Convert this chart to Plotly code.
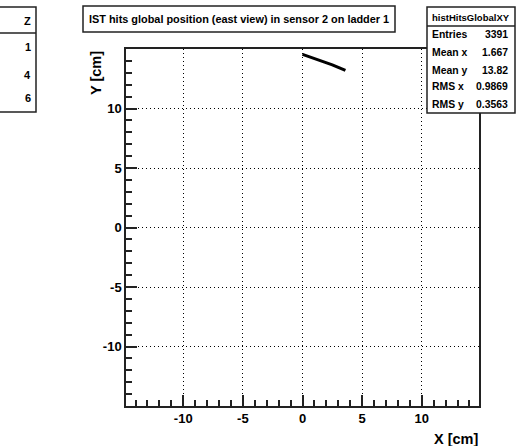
import plotly.graph_objects as go

# Data (hit band in sensor 2, ladder 1)
hit_x = [0.0, 0.5, 1.0, 1.5, 2.0, 2.5, 3.0, 3.6]
hit_y = [14.55, 14.38, 14.2, 14.02, 13.85, 13.67, 13.45, 13.2]

tick_vals = [-10, -5, 0, 5, 10]
tick_text = ["-10", "-5", "0", "5", "10"]

stats_labels = ["Entries", "Mean x", "Mean y", "RMS x", "RMS y"]
stats_values = ["3391", "1.667", "13.82", "0.9869", "0.3563"]
stats_name = "histHitsGlobalXY"
title_text = "IST hits global position (east view) in sensor 2 on ladder 1"
left_box_text = ["Z", "1", "4", "6"]

W, H = 518, 446
L, R, T, B = 126, 479, 49, 406


def px(x):
    return (x - L) / (R - L)


def py(y):
    return (B - y) / (B - T)


FONT = "Liberation Sans, Arial, sans-serif"

fig = go.Figure()
fig.add_trace(go.Scatter(x=hit_x, y=hit_y, mode="lines",
                         line=dict(color="black", width=3), showlegend=False,
                         hoverinfo="skip"))

axis_common = dict(
    showline=True, linecolor="#222", linewidth=1.5, mirror=True,
    ticks="inside", ticklen=11, tickwidth=1.5, tickcolor="#222",
    showgrid=True, gridcolor="black", gridwidth=1.2, griddash="1px,3px",
    zeroline=False,
    tickvals=tick_vals, ticktext=tick_text,
    tickfont=dict(family=FONT, size=13, color="black", weight="bold"),
    minor=dict(ticks="inside", ticklen=6, tickwidth=1.5, tickcolor="#222",
               dtick=1, showgrid=False),
)

fig.update_xaxes(range=[-14.8, 14.8], **axis_common)
fig.update_yaxes(range=[-15, 15], **axis_common)

shapes = []
annotations = []
line = dict(color="#222", width=1.5)

# title box
shapes.append(dict(type="rect", xref="paper", yref="paper",
                   x0=px(83), x1=px(395), y0=py(32), y1=py(6), line=line,
                   fillcolor="white"))
annotations.append(dict(xref="paper", yref="paper", x=px(239), y=py(19),
                        xanchor="center", yanchor="middle", showarrow=False,
                        text=title_text,
                        font=dict(family=FONT, size=10.9, color="black", weight="bold")))

# stats box
shapes.append(dict(type="rect", xref="paper", yref="paper",
                   x0=px(427), x1=px(515), y0=py(113), y1=py(7), line=line,
                   fillcolor="white"))
shapes.append(dict(type="line", xref="paper", yref="paper",
                   x0=px(427), x1=px(515), y0=py(26), y1=py(26), line=line))
annotations.append(dict(xref="paper", yref="paper", x=px(471), y=py(17),
                        xanchor="center", yanchor="middle", showarrow=False,
                        text=stats_name,
                        font=dict(family=FONT, size=9.5, color="black", weight="bold")))
row_y = [35, 52.5, 70, 87, 104.5]
for lab, val, yy in zip(stats_labels, stats_values, row_y):
    annotations.append(dict(xref="paper", yref="paper", x=px(430), y=py(yy),
                            xanchor="left", yanchor="middle", showarrow=False,
                            text=lab,
                            font=dict(family=FONT, size=10.4, color="black", weight="bold")))
    annotations.append(dict(xref="paper", yref="paper", x=px(510), y=py(yy),
                            xanchor="right", yanchor="middle", showarrow=False,
                            text=val,
                            font=dict(family=FONT, size=10.4, color="black", weight="bold")))

# partial box at left edge
shapes.append(dict(type="rect", xref="paper", yref="paper",
                   x0=px(-20), x1=px(36), y0=py(112), y1=py(7), line=line,
                   fillcolor="white"))
shapes.append(dict(type="line", xref="paper", yref="paper",
                   x0=px(-20), x1=px(36), y0=py(33), y1=py(33), line=line))
for txt, yy in zip(left_box_text, [21, 47, 75, 98]):
    annotations.append(dict(xref="paper", yref="paper", x=px(33), y=py(yy),
                            xanchor="right", yanchor="middle", showarrow=False,
                            text=txt,
                            font=dict(family=FONT, size=11, color="black", weight="bold")))

# axis titles
annotations.append(dict(xref="paper", yref="paper", x=px(480), y=py(439),
                        xanchor="right", yanchor="middle", showarrow=False,
                        text="X [cm]",
                        font=dict(family=FONT, size=14.5, color="black", weight="bold")))
annotations.append(dict(xref="paper", yref="paper", x=px(96), y=py(49),
                        xanchor="center", yanchor="top", showarrow=False,
                        text="Y [cm]", textangle=-90,
                        font=dict(family=FONT, size=14.5, color="black", weight="bold")))

fig.update_layout(
    width=W, height=H,
    margin=dict(l=L, r=W - R, t=T, b=H - B),
    paper_bgcolor="white", plot_bgcolor="white",
    shapes=shapes, annotations=annotations,
    showlegend=False,
)

fig.write_html("out.html")
